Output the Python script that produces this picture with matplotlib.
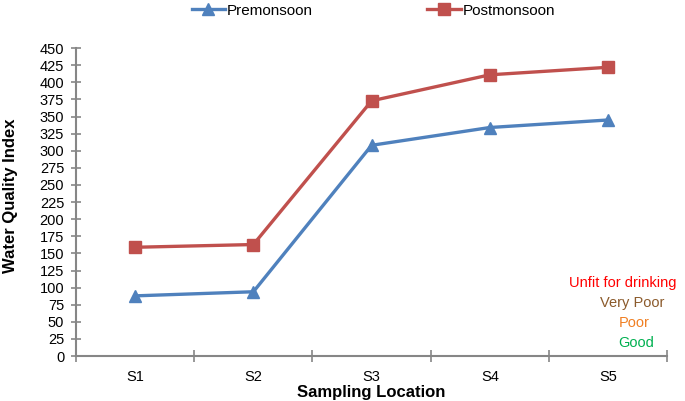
import numpy as np
import matplotlib.pyplot as plt

plt.rcParams['font.family'] = ['Liberation Sans', 'DejaVu Sans']

locations = ['S1', 'S2', 'S3', 'S4', 'S5']
premonsoon = [88, 94, 308, 334, 345]
postmonsoon = [159, 163, 373, 411, 422]

quality_labels = ['Unfit for drinking', 'Very Poor', 'Poor', 'Good']
quality_colors = ['#FF0000', '#8B5A2B', '#F07F22', '#00B050']

fig = plt.figure(figsize=(6.85, 4.01), dpi=100)
ax = fig.add_axes([0.111, 0.112, 0.863, 0.768])

x = np.arange(1, len(locations) + 1)
blue = '#4F81BD'
red = '#C0504D'

ax.plot(x, premonsoon, color=blue, linewidth=2.4, marker='^', markersize=8.5,
        solid_joinstyle='round', label='Premonsoon')
ax.plot(x, postmonsoon, color=red, linewidth=2.4, marker='s', markersize=8,
        solid_joinstyle='round', label='Postmonsoon')

fig.legend(loc='upper center', bbox_to_anchor=(0.545, 1.025), ncol=2,
           frameon=False, fontsize=11, handlelength=2.2, handletextpad=0.1,
           columnspacing=7.5)

ax.set_xlim(0.5, 5.5)
ax.set_ylim(0, 450)
ax.set_yticks(np.arange(0, 451, 25))
ax.set_xticks(np.arange(0.5, 5.6, 1))
ax.set_xticklabels([])
ax.set_xticks(x, minor=True)
ax.set_xticklabels(locations, minor=True)
ax.tick_params(axis='x', which='minor', length=0, labelsize=10.5, pad=10)
ax.tick_params(axis='x', which='major', direction='inout', length=8, color='#868686', width=1.2)
ax.tick_params(axis='y', direction='inout', length=7, color='#868686', width=1.2, labelsize=10.5, pad=5)

for s in ['top', 'right']:
    ax.spines[s].set_visible(False)
for s in ['left', 'bottom']:
    ax.spines[s].set_color('#868686')
    ax.spines[s].set_linewidth(1.5)

ax.set_xlabel('Sampling Location', fontsize=12, fontweight='bold')
ax.set_ylabel('Water Quality Index', fontsize=12, fontweight='bold')
ax.yaxis.set_label_coords(-0.098, 0.52)
ax.xaxis.set_label_coords(0.5, -0.094)

xs_txt = [623, 632, 634, 636]
ys_txt = [283, 303, 323, 343]
for lab, col, xp, yp in zip(quality_labels, quality_colors, xs_txt, ys_txt):
    fig.text(xp / 685, 1 - yp / 401, lab, color=col, fontsize=10.5, ha='center', va='center')

fig.savefig('out.png', dpi=100)
